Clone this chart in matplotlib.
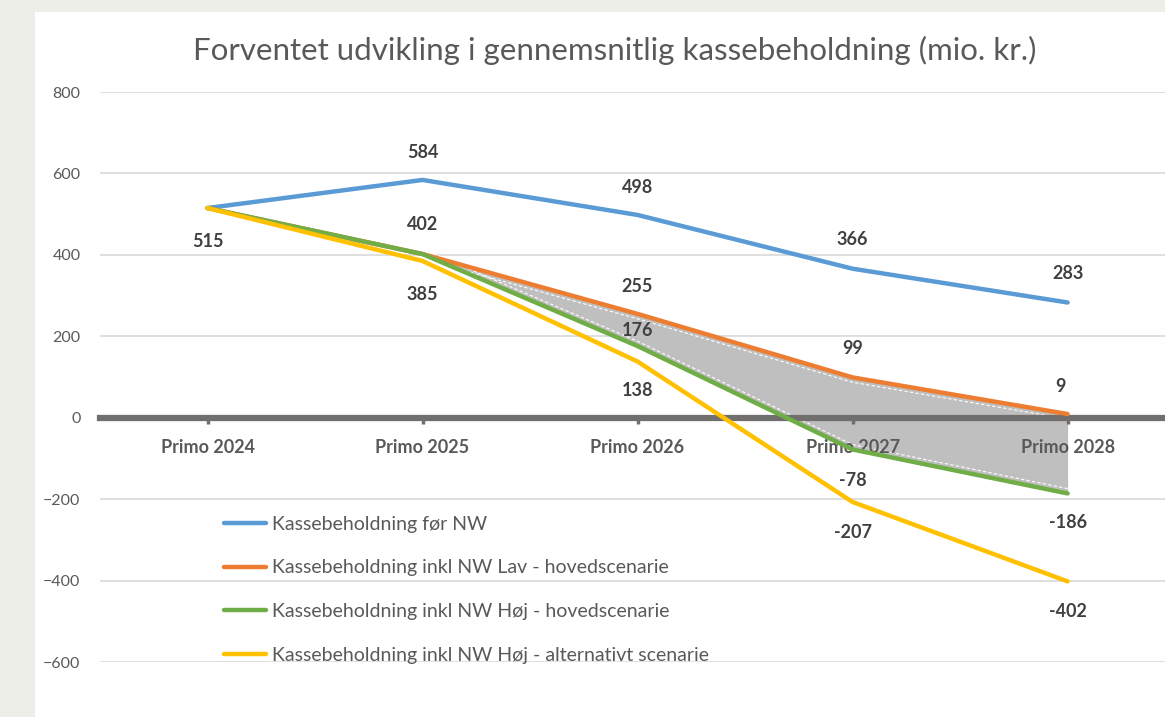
import numpy as np
import matplotlib.pyplot as plt
from matplotlib.patches import Rectangle
from matplotlib import transforms

plt.rcParams['font.family'] = ['Lato', 'DejaVu Sans']

years = ["Primo 2024", "Primo 2025", "Primo 2026", "Primo 2027", "Primo 2028"]
foer_nw = [515, 584, 498, 366, 283]
lav_hoved = [515, 402, 255, 99, 9]
hoej_hoved = [515, 402, 176, -78, -186]
hoej_alt = [515, 385, 138, -207, -402]

names = ["Kassebeholdning før NW",
         "Kassebeholdning inkl NW Lav - hovedscenarie",
         "Kassebeholdning inkl NW Høj - hovedscenarie",
         "Kassebeholdning inkl NW Høj - alternativt scenarie"]
colors = ["#5B9BD5", "#ED7D31", "#70AD47", "#FFC000"]
# label offsets (points) above/below each point
offs = [[-24, 20, 20, 21, 21],
        [0, 21, 20, 21, 20],
        [0, 0, 11, -22, -21],
        [0, -24, -21, -22, -22]]

W, H = 1165, 717
fig = plt.figure(figsize=(W / 100, H / 100), dpi=100)
fig.patch.set_facecolor("#EDEEE8")
fig.patches.append(Rectangle((35 / W, 0), 1, 1 - 12 / H, transform=fig.transFigure,
                             facecolor="white", edgecolor="none", zorder=-5))

ax = fig.add_axes([100 / W, 55 / H, 1065 / W, 570 / H])
ax.set_facecolor("none")
x = np.arange(len(years))

ax.set_xlim(-0.5, 4.453)
ax.set_ylim(-600, 800)
ax.set_yticks(np.arange(-600, 801, 200))
ax.grid(axis="y", color="#D9D9D9", linewidth=1.2)
ax.set_axisbelow(True)
for s in ["top", "right", "left"]:
    ax.spines[s].set_visible(False)
ax.spines["bottom"].set_position(("data", 0))
ax.spines["bottom"].set_color("#716E6E")
ax.spines["bottom"].set_linewidth(4.5)
ax.spines["bottom"].set_zorder(2.6)
ax.xaxis.set_zorder(2.5)
ax.set_xticks(x)
ax.set_xticklabels(years, fontweight="bold", fontsize=13, color="#595959")
ax.tick_params(axis="x", length=4, width=2.5, color="#716E6E", pad=11)
ax.tick_params(axis="y", length=0, pad=14, labelsize=11.5, labelcolor="#595959")

# grey band between Lav and Høj hovedscenarie
ax.fill_between(x[1:], hoej_hoved[1:], lav_hoved[1:], color="#BFBFBF", lw=0, zorder=2)
up = transforms.offset_copy(ax.transData, fig=fig, x=0, y=-3.5, units="points")
dn = transforms.offset_copy(ax.transData, fig=fig, x=0, y=3.5, units="points")
ax.plot(x[1:], lav_hoved[1:], color="white", lw=0.8, ls=(0, (3, 2)), transform=up, zorder=2.1)
ax.plot(x[1:], hoej_hoved[1:], color="white", lw=0.8, ls=(0, (3, 2)), transform=dn, zorder=2.1)

series = [foer_nw, lav_hoved, hoej_hoved, hoej_alt]
for vals, c, name in zip(series, colors, names):
    ax.plot(x, vals, color=c, lw=3.2, label=name, zorder=3, solid_capstyle="round")

for vals, o in zip(series, offs):
    for i, (v, dy) in enumerate(zip(vals, o)):
        if dy == 0:
            continue
        dx = -5 if (vals is lav_hoved and i == 4) else 0
        ax.annotate(str(v), (x[i], v), xytext=(dx, dy), textcoords="offset points",
                    ha="center", va="center", fontsize=13, fontweight="bold",
                    color="#404040", zorder=4)

ax.legend(loc="upper left", bbox_to_anchor=(0.107, 0.274), frameon=False,
          fontsize=14, labelcolor="#595959", handlelength=2.2, handletextpad=0.3,
          labelspacing=1.38, borderpad=0)

fig.text(615 / W, 1 - 50 / H, "Forventet udvikling i gennemsnitlig kassebeholdning (mio. kr.)",
         ha="center", va="center", fontsize=22.5, color="#595959")

fig.savefig("out.png", dpi=100)
